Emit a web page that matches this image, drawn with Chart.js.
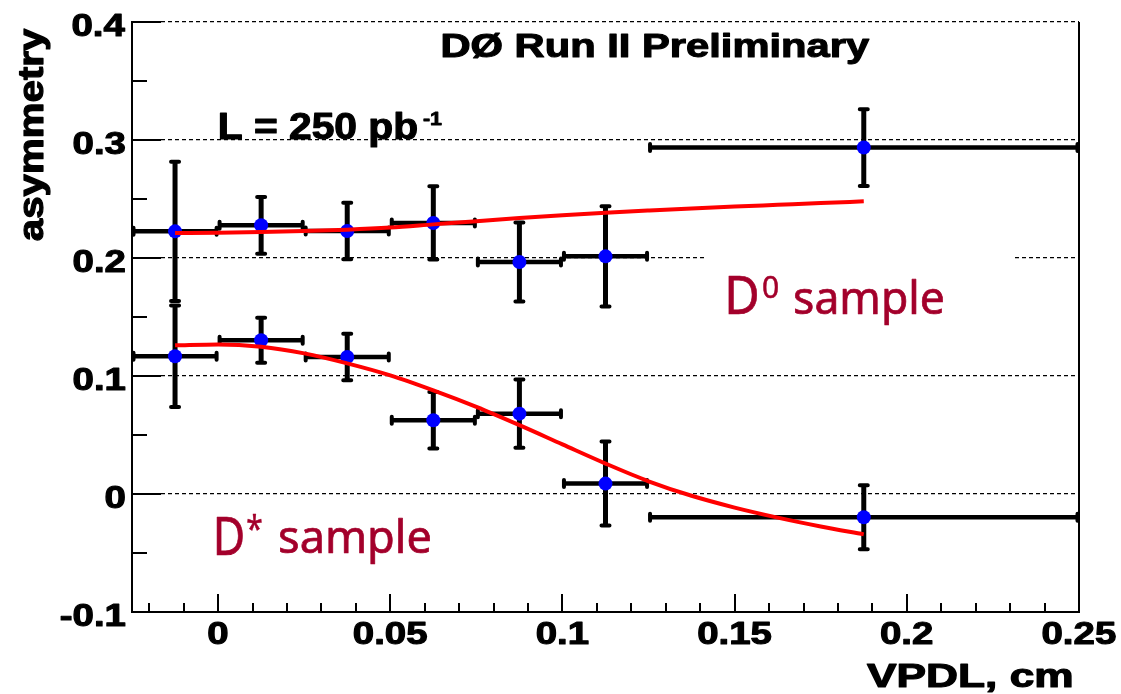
<!DOCTYPE html>
<html><head><meta charset="utf-8">
<script src="https://cdn.jsdelivr.net/npm/chart.js@4.4.1/dist/chart.umd.min.js"></script>
<style>html,body{margin:0;padding:0;background:#fff;}canvas{display:block}</style>
</head><body>
<canvas id="c" width="1121" height="694"></canvas>
<script>
// ---- data ----
const binLow    = [-0.025, 0, 0.025, 0.05, 0.075, 0.1, 0.125];
const binHigh   = [0, 0.025, 0.05, 0.075, 0.1, 0.125, 0.25];
const binCenter = [-0.0125, 0.0125, 0.0375, 0.0625, 0.0875, 0.1125, 0.1875];
const d0Asym  = [0.2226, 0.2277, 0.2229, 0.2297, 0.1966, 0.2014, 0.2936];
const d0Err   = [0.059, 0.024, 0.024, 0.031, 0.0335, 0.0424, 0.0325];
const dstAsym = [0.1167, 0.1303, 0.1161, 0.0625, 0.0681, 0.0088, -0.0197];
const dstErr  = [0.043, 0.019, 0.0197, 0.024, 0.029, 0.0356, 0.0272];
const fitX   = [-0.0125, 0, 0.0125, 0.025, 0.0375, 0.05, 0.0625, 0.075, 0.0875, 0.1, 0.1125, 0.125, 0.1375, 0.15, 0.1625, 0.175, 0.1875];
const d0Fit  = [0.2212, 0.2215, 0.2220, 0.2228, 0.2240, 0.2258, 0.2285, 0.2312, 0.2338, 0.2362, 0.2383, 0.2402, 0.2420, 0.2436, 0.2451, 0.2466, 0.2480];
const dstFit = [0.1260, 0.1268, 0.1248, 0.1192, 0.1107, 0.1005, 0.0878, 0.0738, 0.0583, 0.0420, 0.0258, 0.0108, -0.0015, -0.0115, -0.0200, -0.0275, -0.0342];
const yTickValues = [-0.1, 0, 0.1, 0.2, 0.3, 0.4];
const yTickLabels = ['-0.1', '0', '0.1', '0.2', '0.3', '0.4'];
const xTickValues = [0, 0.05, 0.1, 0.15, 0.2, 0.25];
const xTickLabels = ['0', '0.05', '0.1', '0.15', '0.2', '0.25'];

const BOLD = '"Liberation Sans", Arial, Helvetica, sans-serif';
const HAND = '"Noto Sans", "DejaVu Sans", sans-serif';
const DARKRED = '#a3002b';

function inkFit(ctx, str, L, R, baseY, font, color, stroke) {
  ctx.save();
  ctx.font = font;
  ctx.textAlign = 'left';
  ctx.textBaseline = 'alphabetic';
  const m = ctx.measureText(str);
  const a = m.actualBoundingBoxLeft, b = m.actualBoundingBoxRight;
  const sx = (R - L) / (a + b);
  ctx.translate(L, baseY);
  ctx.scale(sx, 1);
  ctx.fillStyle = color || '#000';
  ctx.fillText(str, a, 0);
  if (stroke) {
    ctx.strokeStyle = color || '#000';
    ctx.lineWidth = stroke;
    ctx.lineJoin = 'round';
    ctx.strokeText(str, a, 0);
  }
  ctx.restore();
}
function scaledText(ctx, str, x, baseY, font, sx, align, stroke) {
  ctx.save();
  ctx.font = font;
  ctx.textAlign = 'left';
  ctx.textBaseline = 'alphabetic';
  const m = ctx.measureText(str);
  const a = m.actualBoundingBoxLeft, b = m.actualBoundingBoxRight;
  const w = (a + b) * sx;
  let L = x;
  if (align === 'center') L = x - w / 2;
  else if (align === 'right') L = x - w;
  ctx.translate(L, baseY);
  ctx.scale(sx, 1);
  ctx.fillStyle = '#000';
  ctx.fillText(str, a, 0);
  if (stroke) {
    ctx.strokeStyle = '#000';
    ctx.lineWidth = stroke;
    ctx.lineJoin = 'round';
    ctx.strokeText(str, a, 0);
  }
  ctx.restore();
}

const decorPlugin = {
  id: 'decor',
  beforeDatasetsDraw(chart) {
    const ctx = chart.ctx, xs = chart.scales.x, ys = chart.scales.y;
    // white patch behind the D0 label (breaks the 0.2 grid line)
    ctx.save();
    ctx.fillStyle = '#fff';
    ctx.fillRect(707, 250, 306, 16);
    ctx.restore();
    // error bars
    const drawSet = (vals, errs) => {
      for (let i = 0; i < vals.length; i++) {
        const xc = xs.getPixelForValue(binCenter[i]);
        const xl = xs.getPixelForValue(binLow[i]);
        const xh = xs.getPixelForValue(binHigh[i]);
        const yc = ys.getPixelForValue(vals[i]);
        const yt = ys.getPixelForValue(vals[i] + errs[i]);
        const yb = ys.getPixelForValue(vals[i] - errs[i]);
        ctx.strokeStyle = '#000';
        ctx.lineCap = 'butt';
        ctx.lineWidth = 4.5;
        ctx.beginPath(); ctx.moveTo(xl + 1, yc); ctx.lineTo(xh - 1, yc); ctx.stroke();
        ctx.lineWidth = 5;
        ctx.beginPath(); ctx.moveTo(xc, yt + 1); ctx.lineTo(xc, yb - 1); ctx.stroke();
        ctx.lineCap = 'round';
        ctx.lineWidth = 4;
        ctx.beginPath();
        ctx.moveTo(xc - 4, yt); ctx.lineTo(xc + 4, yt);
        ctx.moveTo(xc - 4, yb); ctx.lineTo(xc + 4, yb);
        ctx.moveTo(xl + 1.5, yc - 3.5); ctx.lineTo(xl + 1.5, yc + 3.5);
        ctx.moveTo(xh - 1.5, yc - 3.5); ctx.lineTo(xh - 1.5, yc + 3.5);
        ctx.stroke();
      }
    };
    ctx.save();
    drawSet(d0Asym, d0Err);
    drawSet(dstAsym, dstErr);
    ctx.restore();
  },
  afterDraw(chart) {
    const ctx = chart.ctx, xs = chart.scales.x, ys = chart.scales.y;
    const ca = chart.chartArea;
    ctx.save();
    ctx.strokeStyle = '#000';
    ctx.lineCap = 'butt';
    // right frame line
    ctx.lineWidth = 2;
    ctx.beginPath(); ctx.moveTo(ca.right, ca.top); ctx.lineTo(ca.right, ca.bottom + 1); ctx.stroke();
    // y ticks (inside)
    ctx.lineWidth = 2;
    ctx.beginPath();
    for (let k = -2; k <= 8; k++) {
      const v = k * 0.05;
      const py = Math.round(ys.getPixelForValue(v));
      const len = (k % 2 === 0) ? 29 : 15;
      ctx.moveTo(ca.left, py); ctx.lineTo(ca.left + len, py);
    }
    ctx.stroke();
    // x ticks (inside)
    ctx.beginPath();
    for (let k = -2; k <= 25; k++) {
      const v = k * 0.01;
      const px = Math.round(xs.getPixelForValue(v));
      const len = (k % 5 === 0) ? 18 : 9;
      ctx.moveTo(px, ca.bottom); ctx.lineTo(px, ca.bottom - len);
    }
    ctx.stroke();
    ctx.restore();

    // tick labels
    const tf = 'bold 32px ' + BOLD;
    yTickValues.forEach((v, i) => {
      scaledText(ctx, yTickLabels[i], 125, ys.getPixelForValue(v) + 14, tf, 1.2, 'right', 1.1);
    });
    xTickValues.forEach((v, i) => {
      scaledText(ctx, xTickLabels[i], xs.getPixelForValue(v), 644, tf, 1.2, 'center', 1.1);
    });

    // axis titles
    inkFit(ctx, 'VPDL, cm', 867, 1072, 687, 'bold 34px ' + BOLD, '#000', 1.2);
    ctx.save();
    ctx.translate(43, 240);
    ctx.rotate(-Math.PI / 2);
    inkFit(ctx, 'asymmetry', 0, 212, 0, 'bold 35px ' + BOLD, '#000', 1.2);
    ctx.restore();

    // annotations
    inkFit(ctx, 'DØ Run II Preliminary', 443, 870, 57, 'bold 33px ' + BOLD, '#000', 1.1);
    inkFit(ctx, 'L = 250 pb', 220, 417, 139, 'bold 36px ' + BOLD, '#000', 1.1);
    inkFit(ctx, '-1', 423, 442, 125, 'bold 18px ' + BOLD, '#000', 0.8);

    inkFit(ctx, 'D', 729, 757, 314, '52px ' + HAND, DARKRED, 0.7);
    inkFit(ctx, '0', 763, 778, 298, '30px ' + HAND, DARKRED, 0.5);
    inkFit(ctx, 'sample', 795, 943, 314, '46px ' + HAND, DARKRED, 0.7);

    inkFit(ctx, 'D', 217, 243, 555, '53px ' + HAND, DARKRED, 0.7);
    inkFit(ctx, '*', 247, 262, 541, '36px ' + HAND, DARKRED, 0.5);
    inkFit(ctx, 'sample', 280, 430, 553, '46px ' + HAND, DARKRED, 0.7);
  }
};

const toXY = (xa, ya) => xa.map((x, i) => ({x: x, y: ya[i]}));

new Chart(document.getElementById('c'), {
  type: 'scatter',
  data: {
    datasets: [
      { type: 'line', label: 'D0 fit', data: toXY(fitX, d0Fit), borderColor: '#ff0000', borderWidth: 4,
        pointRadius: 0, cubicInterpolationMode: 'monotone', fill: false, order: 0 },
      { type: 'line', label: 'D* fit', data: toXY(fitX, dstFit), borderColor: '#ff0000', borderWidth: 4,
        pointRadius: 0, cubicInterpolationMode: 'monotone', fill: false, order: 0 },
      { label: 'D0 sample', data: toXY(binCenter, d0Asym), pointRadius: 7, backgroundColor: '#0000ff',
        borderWidth: 0, order: 1 },
      { label: 'D* sample', data: toXY(binCenter, dstAsym), pointRadius: 7, backgroundColor: '#0000ff',
        borderWidth: 0, order: 1 }
    ]
  },
  options: {
    responsive: false,
    animation: false,
    devicePixelRatio: 1,
    layout: { padding: { left: 132, right: 42, top: 22, bottom: 82 } },
    plugins: { legend: { display: false }, tooltip: { enabled: false } },
    scales: {
      x: {
        type: 'linear', min: -0.025, max: 0.25,
        ticks: { display: false, stepSize: 0.05 },
        grid: { display: false, drawTicks: false },
        border: { display: true, color: '#000', width: 2 },
        afterFit: (s) => { s.height = 0; }
      },
      y: {
        type: 'linear', min: -0.1, max: 0.4,
        ticks: { display: false, stepSize: 0.1 },
        grid: { display: true, drawTicks: false, color: '#000', lineWidth: 1.3 },
        border: { display: true, color: '#000', width: 2, dash: [4, 3] },
        afterFit: (s) => { s.width = 0; }
      }
    }
  },
  plugins: [decorPlugin]
});
</script>
</body></html>
